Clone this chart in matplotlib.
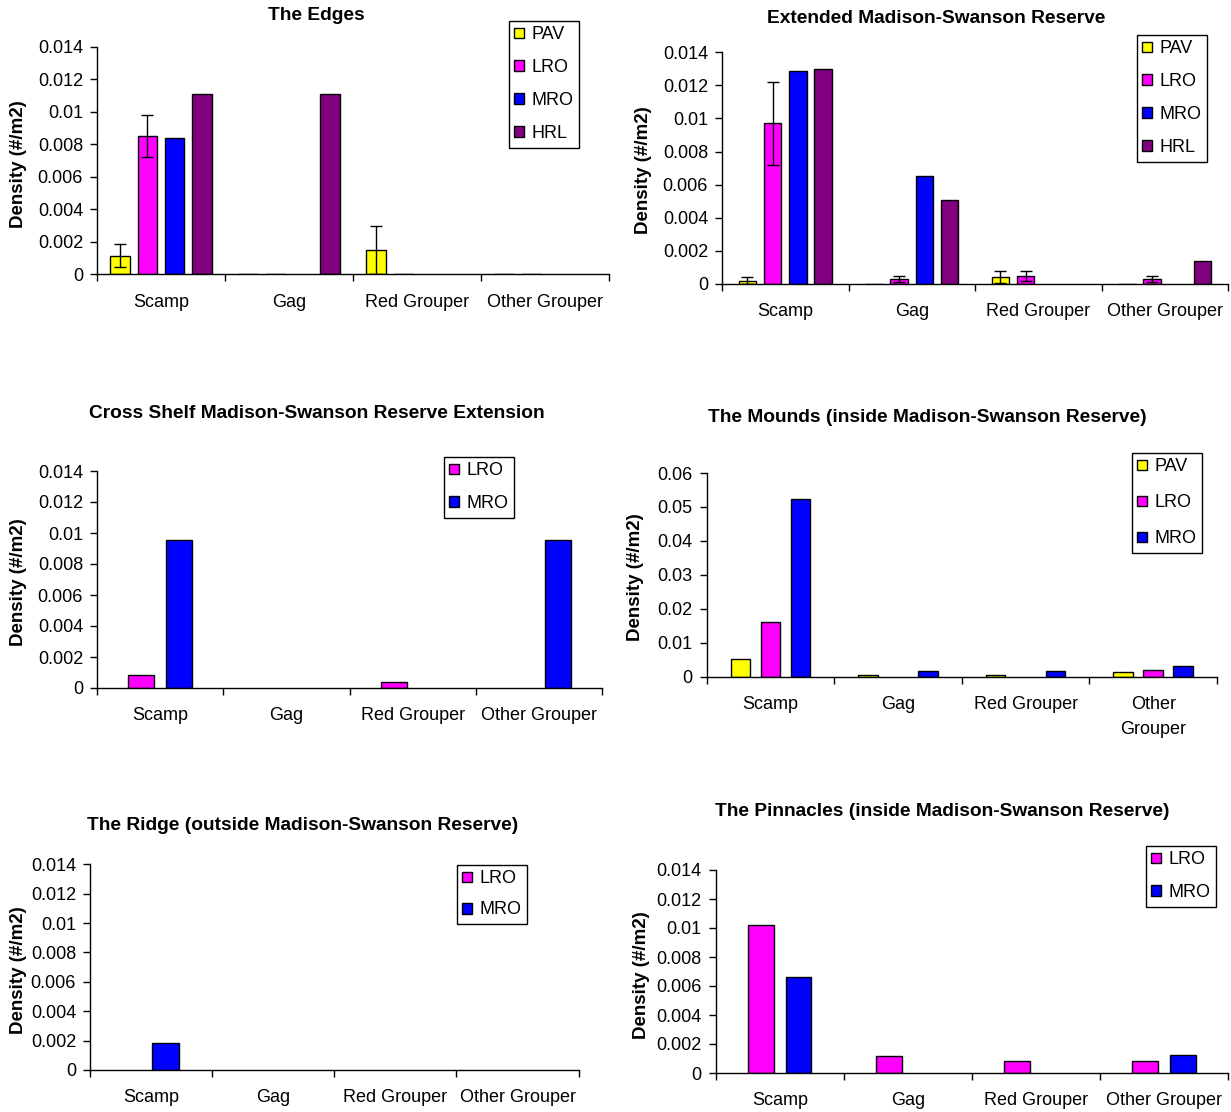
import numpy as np
import matplotlib
matplotlib.use("Agg")
import matplotlib.pyplot as plt
from matplotlib.patches import Patch
from matplotlib.ticker import FuncFormatter, MultipleLocator

plt.rcParams['font.family'] = ['Liberation Sans', 'DejaVu Sans']

nan = np.nan
categories = ["Scamp", "Gag", "Red Grouper", "Other Grouper"]
mounds_categories = ["Scamp", "Gag", "Red Grouper", "Other\nGrouper"]

# The Edges
edges_pav = [0.00115, 0.0, 0.0015, 0.0]
edges_pav_err = [0.0007, nan, 0.0015, nan]
edges_lro = [0.0085, 0.0, 0.0, 0.0]
edges_lro_err = [0.0013, nan, nan, nan]
edges_mro = [0.0084, nan, nan, nan]
edges_hrl = [0.0111, 0.0111, nan, nan]

# Extended Madison-Swanson Reserve
ext_pav = [0.0002, 0.0, 0.0004, 0.0]
ext_pav_err = [0.00022, nan, 0.00036, nan]
ext_lro = [0.0097, 0.0003, 0.0005, 0.0003]
ext_lro_err = [0.0025, 0.0002, 0.0003, 0.0002]
ext_mro = [0.0129, 0.0065, nan, nan]
ext_hrl = [0.0130, 0.0051, nan, 0.0014]

# Cross Shelf Madison-Swanson Reserve Extension
cross_lro = [0.00084, nan, 0.0004, nan]
cross_mro = [0.00955, nan, nan, 0.00955]

# The Mounds
mounds_pav = [0.0053, 0.0006, 0.0006, 0.0015]
mounds_lro = [0.0161, nan, nan, 0.0021]
mounds_mro = [0.0523, 0.0017, 0.0017, 0.0031]

# The Ridge
ridge_lro = [nan, nan, nan, nan]
ridge_mro = [0.00186, nan, nan, nan]

# The Pinnacles
pinn_lro = [0.0102, 0.00115, 0.0008, 0.0008]
pinn_mro = [0.0066, nan, nan, 0.00126]

colors = {"PAV": "#FFFF00", "LRO": "#FF00FF", "MRO": "#0000FF", "HRL": "#800080"}

W, H = 1231, 1112
fig = plt.figure(figsize=(W / 100, H / 100), dpi=100)
fmt = FuncFormatter(lambda v, p: "{:g}".format(round(v, 6)))


def px_axes(x0, y0, x1, y1):
    return fig.add_axes([x0 / W, 1 - y1 / H, (x1 - x0) / W, (y1 - y0) / H])


def panel(box, title, tpos, ylab, leg, series, cats, width, pitch, ymax, ystep,
          legsp=0.88):
    ax = px_axes(*box)
    n = len(series)
    x = np.arange(len(cats))
    for i, (name, vals, errs) in enumerate(series):
        vals = np.asarray(vals, float)
        ok = ~np.isnan(vals)
        off = (i - (n - 1) / 2) * pitch
        e = None
        if errs is not None:
            e = np.asarray(errs, float)[ok]
        ax.bar(x[ok] + off, vals[ok], width, color=colors[name],
               edgecolor="black", linewidth=1, yerr=e,
               error_kw=dict(ecolor="black", elinewidth=1, capsize=4.5,
                             capthick=1))
    ax.set_xlim(-0.5, len(cats) - 0.5)
    ax.set_ylim(0, ymax)
    ax.yaxis.set_major_locator(MultipleLocator(ystep))
    ax.yaxis.set_major_formatter(fmt)
    ax.set_xticks(np.arange(len(cats) + 1) - 0.5)
    ax.set_xticklabels([])
    ax.set_xticks(x, minor=True)
    ax.set_xticklabels(cats, minor=True, linespacing=1.6, va="top")
    ax.tick_params(axis="x", which="minor", length=0, pad=14, labelsize=13)
    ax.tick_params(axis="x", which="major", length=5, width=1, direction="out")
    ax.tick_params(axis="y", length=5, width=1, pad=5, labelsize=13)
    for s in ("top", "right"):
        ax.spines[s].set_visible(False)
    for s in ("left", "bottom"):
        ax.spines[s].set_linewidth(1)
    fig.text(tpos[0] / W, 1 - tpos[1] / H, title, ha="center", va="center",
             fontsize=13.8, fontweight="bold")
    fig.text(ylab[0] / W, 1 - ylab[1] / H, "Density (#/m2)", ha="center",
             va="center", rotation=90, fontsize=13.5, fontweight="bold")
    handles = [Patch(facecolor=colors[s[0]], edgecolor="black", linewidth=1)
               for s in series]
    lg = ax.legend(handles, [s[0] for s in series], loc="upper left",
                   bbox_to_anchor=(leg[0] / W, 1 - leg[1] / H),
                   bbox_transform=fig.transFigure, borderaxespad=0,
                   fancybox=False, edgecolor="black", framealpha=1,
                   fontsize=13, handlelength=0.55, handleheight=0.55,
                   handletextpad=0.4, labelspacing=legsp, borderpad=0.3)
    lg.get_frame().set_linewidth(1)
    return ax


panel((97, 46.7, 609, 274.3), "The Edges", (316, 16), (19, 164), (509, 21),
      [("PAV", edges_pav, edges_pav_err), ("LRO", edges_lro, edges_lro_err),
       ("MRO", edges_mro, None), ("HRL", edges_hrl, None)],
      categories, 0.154, 0.213, 0.014, 0.002)

panel((722, 52.3, 1228, 284), "Extended Madison-Swanson Reserve", (936, 18.5),
      (643, 170), (1137, 35),
      [("PAV", ext_pav, ext_pav_err), ("LRO", ext_lro, ext_lro_err),
       ("MRO", ext_mro, None), ("HRL", ext_hrl, None)],
      categories, 0.139, 0.2, 0.014, 0.002)

panel((97, 471, 602, 688), "Cross Shelf Madison-Swanson Reserve Extension",
      (317, 414), (19, 582), (444, 457),
      [("LRO", cross_lro, None), ("MRO", cross_mro, None)],
      categories, 0.206, 0.30, 0.014, 0.002)

panel((706.6, 473, 1217, 676.7), "The Mounds (inside Madison-Swanson Reserve)",
      (927, 417.7), (635, 577), (1132, 453),
      [("PAV", mounds_pav, None), ("LRO", mounds_lro, None),
       ("MRO", mounds_mro, None)],
      mounds_categories, 0.153, 0.235, 0.06, 0.01, legsp=1.05)

panel((90, 864.3, 578.6, 1070), "The Ridge (outside Madison-Swanson Reserve)",
      (303, 825), (19, 970), (457, 865),
      [("LRO", ridge_lro, None), ("MRO", ridge_mro, None)],
      categories, 0.22, 0.24, 0.014, 0.002, legsp=0.78)

panel((715.7, 870, 1228, 1073), "The Pinnacles (inside Madison-Swanson Reserve)",
      (942, 811), (642, 975), (1146, 846),
      [("LRO", pinn_lro, None), ("MRO", pinn_mro, None)],
      categories, 0.2, 0.294, 0.014, 0.002)

fig.savefig("out.png", dpi=100)
